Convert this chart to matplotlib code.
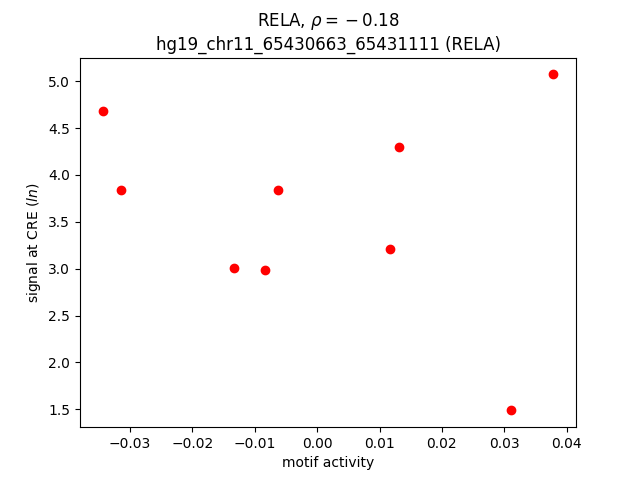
import matplotlib
matplotlib.use("Agg")
import matplotlib.pyplot as plt

motif_activity = [-0.0344, -0.03146, -0.01332, -0.00835, -0.00626, 0.01172, 0.01306, 0.03114, 0.03788]
signal = [4.677, 3.834, 3.012, 2.990, 3.844, 3.215, 4.303, 1.489, 5.072]

fig, ax = plt.subplots(figsize=(6.4, 4.8), dpi=100)
ax.scatter(motif_activity, signal, color="red")
ax.set_xlabel("motif activity")
ax.set_ylabel("signal at CRE ($ln$)")
ax.set_title("RELA, $\\rho = {} - 0.18$\nhg19_chr11_65430663_65431111 (RELA)")
fig.savefig("out.png")
